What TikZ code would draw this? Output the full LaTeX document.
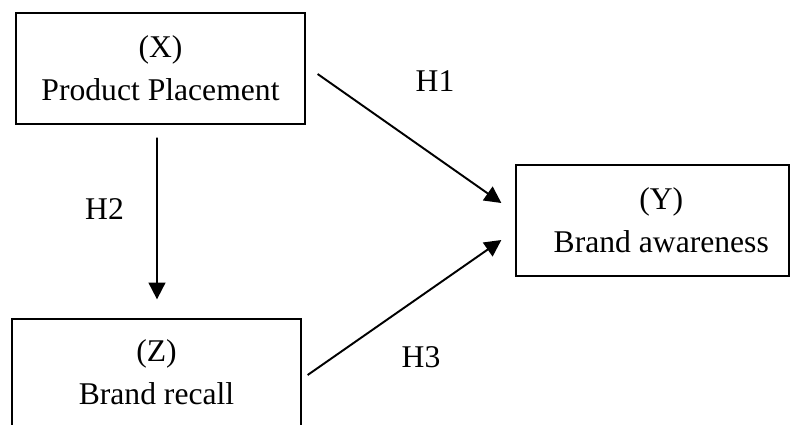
\documentclass[tikz,border=0pt]{standalone}
\usepackage{fontspec}
\setmainfont{Liberation Serif}
\usepackage{tikz}
\usetikzlibrary{arrows.meta,positioning,calc}

\begin{document}
\begin{tikzpicture}[
    x=0.02cm, y=-0.02cm,
    var_box/.style={draw, line width=0.75pt, align=center, inner sep=0pt,
                    font=\fontsize{18}{24.5}\selectfont},
    hyp/.style={font=\fontsize{18}{21}\selectfont},
    arr/.style={-{Triangle[length=9.5pt,width=9.5pt]}, line width=1.1pt}
]
\useasboundingbox (0,0) rectangle (790,424);

% Variables
\node[var_box, minimum width=5.78cm, minimum height=2.22cm] (prod) at (160.5, 68.5)
    {(X)\\Product Placement};
\node[var_box, minimum width=5.46cm, minimum height=2.22cm] (aware) at (652.5, 220.5)
    {\hspace*{10pt}(Y)\\\hspace*{10pt}Brand awareness};
\node[var_box, minimum width=5.78cm, minimum height=2.14cm] (recall) at (156.5, 372.5)
    {(Z)\\Brand recall};

% Hypotheses
\draw[arr] ($(prod.east)+(12,5.5)$) -- ($(aware.west)+(-14,-17.5)$);
\draw[arr] ($(prod.south)+(-3.5,13)$) -- ($(recall.north)+(0.5,-19)$);
\draw[arr] ($(recall.east)+(6,2.5)$) -- ($(aware.west)+(-14,19.5)$);

\node[hyp] (h1) at (435, 81) {H1};
\node[hyp] (h2) at (104.5, 209) {H2};
\node[hyp] (h3) at (421, 357.5) {H3};

\end{tikzpicture}
\end{document}
